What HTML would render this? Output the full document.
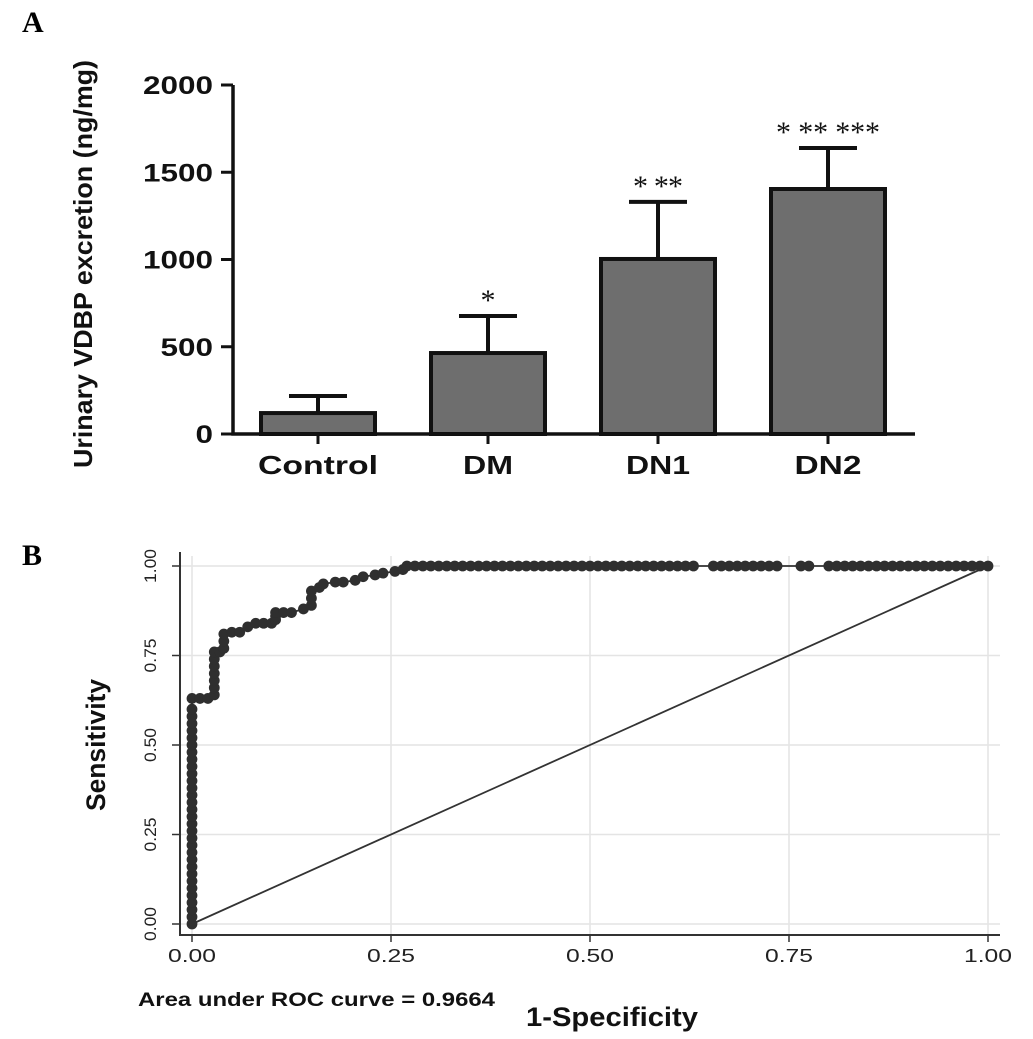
<!DOCTYPE html>
<html><head><meta charset="utf-8"><style>
html,body{margin:0;padding:0;background:#fff;}
svg{display:block;font-family:"Liberation Sans",sans-serif;}
</style></head><body>
<svg id="fig" width="1033" height="1039" viewBox="0 0 1033 1039">
<text x="22" y="32" font-family="Liberation Serif,serif" font-weight="bold" font-size="30">A</text>
<text x="22" y="565" font-family="Liberation Serif,serif" font-weight="bold" font-size="30">B</text>
<g id="barChart"></g>
<g id="rocChart"></g>
</svg>
<script>
const NS="http://www.w3.org/2000/svg";
function mk(parent,tag,attrs,txt){const e=document.createElementNS(NS,tag);for(const k in attrs)e.setAttribute(k,attrs[k]);if(txt!==undefined)e.textContent=txt;parent.appendChild(e);return e;}

// ---- Bar chart data ----
const categories=["Control","DM","DN1","DN2"];
const means=[120,464,1003,1404];
const errTops=[218,676,1330,1639];
const sigLabels=["","*","* **","* ** ***"];
const yTicks=[0,500,1000,1500,2000];

// ---- ROC data ----
const rocFpr=[0,0,0,0,0,0,0,0,0,0,0,0,0,0,0,0,0,0,0,0,0,0,0,0,0,0,0,0,0,0,0,0,
0.01,0.02,0.028,0.028,0.028,0.028,0.028,0.028,0.028,0.035,0.04,0.04,0.04,0.05,0.06,0.07,0.08,0.09,0.10,0.105,0.105,0.105,0.115,0.125,0.14,0.15,0.15,0.15,0.16,0.165,0.18,0.19,0.205,0.215,0.23,0.24,0.255,0.265,0.27,
0.28,0.29,0.30,0.31,0.32,0.33,0.34,0.35,0.36,0.37,0.38,0.39,0.40,0.41,0.42,0.43,0.44,0.45,0.46,0.47,0.48,0.49,0.50,0.51,0.52,0.53,0.54,0.55,0.56,0.57,0.58,0.59,0.60,0.61,0.62,0.63,
0.655,0.665,0.675,0.685,0.695,0.705,0.715,0.725,0.735,0.765,0.775,
0.80,0.81,0.82,0.83,0.84,0.85,0.86,0.87,0.88,0.89,0.90,0.91,0.92,0.93,0.94,0.95,0.96,0.97,0.98,0.99,1.0];
const rocTpr=[0,0.02,0.04,0.06,0.08,0.10,0.12,0.14,0.16,0.18,0.20,0.22,0.24,0.26,0.28,0.30,0.32,0.34,0.36,0.38,0.40,0.42,0.44,0.46,0.48,0.50,0.52,0.54,0.56,0.58,0.60,0.63,
0.63,0.63,0.64,0.66,0.68,0.70,0.72,0.74,0.76,0.76,0.77,0.79,0.81,0.815,0.815,0.83,0.84,0.84,0.84,0.85,0.86,0.87,0.87,0.87,0.88,0.89,0.91,0.93,0.94,0.95,0.955,0.955,0.96,0.97,0.975,0.98,0.985,0.99,1.0,
1,1,1,1,1,1,1,1,1,1,1,1,1,1,1,1,1,1,1,1,1,1,1,1,1,1,1,1,1,1,1,1,1,1,1,1,
1,1,1,1,1,1,1,1,1,1,1,
1,1,1,1,1,1,1,1,1,1,1,1,1,1,1,1,1,1,1,1,1];
const rocTicks=[0,0.25,0.5,0.75,1];
const rocTickLabels=["0.00","0.25","0.50","0.75","1.00"];

// ---- Bar chart ----
(function(){
const g=document.getElementById('barChart');
const y0=434,y1=85,ax=233,x0=318,step=170,bw=114;
const ys=v=>y0-(v/2000)*(y0-y1);
const xs=i=>x0+i*step;
const catW=[120,50,64,67];
const starW=[0,14,50,104];
let t=mk(g,'text',{x:92,y:264,transform:'rotate(-90 92 264)','text-anchor':'middle','font-weight':'bold','font-size':'26',fill:'#111',textLength:'408',lengthAdjust:'spacingAndGlyphs'},'Urinary VDBP excretion (ng/mg)');


yTicks.forEach(v=>{
 const l=mk(g,'line',{x1:ax-12,x2:ax,y1:ys(v),y2:ys(v),stroke:'#111','stroke-width':3});
 
 
 const s=String(v);
 const tx=mk(g,'text',{x:ax-20,y:ys(v)+9,'text-anchor':'end','font-weight':'bold','font-size':'25',fill:'#111',textLength:String(s.length*17.5),lengthAdjust:'spacingAndGlyphs'},s);
 
 
});
categories.forEach((c,i)=>{
 const cx=xs(i);
 const eb=mk(g,'path',{d:`M${cx} ${ys(means[i])} V${ys(errTops[i])} M${cx-29} ${ys(errTops[i])} H${cx+29}`,stroke:'#111','stroke-width':4,fill:'none'});
 
 
 const r=mk(g,'rect',{x:cx-bw/2,y:ys(means[i]),width:bw,height:y0-ys(means[i]),fill:'#6e6e6e',stroke:'#111','stroke-width':4});
 
 
 const tk=mk(g,'line',{x1:cx,x2:cx,y1:y0,y2:y0+10,stroke:'#111','stroke-width':3});
 
 
 const lb=mk(g,'text',{x:cx,y:y0+40,'text-anchor':'middle','font-weight':'bold','font-size':'26',fill:'#111',textLength:String(catW[i]),lengthAdjust:'spacingAndGlyphs'},c);
 
 
 if(sigLabels[i]){
  const s=mk(g,'text',{x:cx,y:ys(errTops[i])-6,'text-anchor':'middle','font-family':'Liberation Serif,serif','font-size':'30',fill:'#111',textLength:String(starW[i]),lengthAdjust:'spacing'},sigLabels[i]);
  
  
 }
});
const ax1=mk(g,'path',{d:`M${ax} ${y1} V${y0} H915`,stroke:'#111','stroke-width':3.5,fill:'none'});


})();

// ---- ROC chart ----
(function(){
const g=document.getElementById('rocChart');
const X0=192,X1=988,Y0=924,Y1=566;
const xs=v=>X0+v*(X1-X0), ys=v=>Y0-v*(Y0-Y1);
rocTicks.forEach((v,i)=>{
 const gv=mk(g,'line',{x1:xs(v),x2:xs(v),y1:556,y2:935,stroke:'#e4e4e4','stroke-width':1.5});
 
 
 const gh=mk(g,'line',{x1:180,x2:1000,y1:ys(v),y2:ys(v),stroke:'#e4e4e4','stroke-width':1.5});
 
 
 const tx=mk(g,'line',{x1:xs(v),x2:xs(v),y1:935,y2:942,stroke:'#333','stroke-width':1.5});
 
 
 const ty=mk(g,'line',{x1:172,x2:180,y1:ys(v),y2:ys(v),stroke:'#333','stroke-width':1.5});
 
 
 const lx=mk(g,'text',{x:xs(v),y:962,'text-anchor':'middle','font-size':'18',fill:'#222',textLength:'48',lengthAdjust:'spacingAndGlyphs'},rocTickLabels[i]);
 
 
 const ly=mk(g,'text',{x:156,y:ys(v),transform:`rotate(-90 156 ${ys(v)})`,'text-anchor':'middle','font-size':'17',fill:'#222',textLength:'34',lengthAdjust:'spacingAndGlyphs'},rocTickLabels[i]);
 
 
});
const axes=mk(g,'path',{d:'M180 552 V935 H1000',stroke:'#333','stroke-width':2,fill:'none'});


const diag=mk(g,'line',{x1:xs(0),y1:ys(0),x2:xs(1),y2:ys(1),stroke:'#333','stroke-width':1.8});


const pts=rocFpr.map((f,i)=>xs(f)+','+ys(rocTpr[i])).join(' ');
const pl=mk(g,'polyline',{points:pts,fill:'none',stroke:'#333','stroke-width':1.8});


rocFpr.forEach((f,i)=>{
 const c=mk(g,'circle',{cx:xs(f),cy:ys(rocTpr[i]),r:5.4,fill:'#2f2f2f'});
 
 
});
const yt=mk(g,'text',{x:105,y:745,transform:'rotate(-90 105 745)','text-anchor':'middle','font-weight':'bold','font-size':'27',fill:'#111',textLength:'132',lengthAdjust:'spacingAndGlyphs'},'Sensitivity');


const xt=mk(g,'text',{x:612,y:1026,'text-anchor':'middle','font-weight':'bold','font-size':'27',fill:'#111',textLength:'172',lengthAdjust:'spacingAndGlyphs'},'1-Specificity');


const au=mk(g,'text',{x:138,y:1006,'font-weight':'bold','font-size':'19',fill:'#111',textLength:'357',lengthAdjust:'spacingAndGlyphs'},'Area under ROC curve = 0.9664');


})();
</script>
</body></html>
